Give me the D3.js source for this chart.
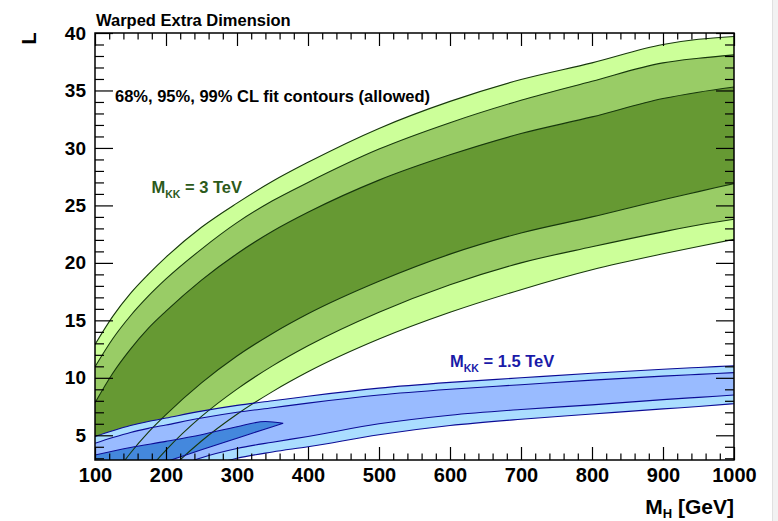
<!DOCTYPE html>
<html>
<head>
<meta charset="utf-8">
<script src="https://cdn.jsdelivr.net/npm/d3@7/dist/d3.min.js"></script>
<style>
  html, body { margin: 0; padding: 0; background: #fff; }
  svg { display: block; font-family: "Liberation Sans", Arial, Helvetica, sans-serif; font-weight: bold; }
</style>
</head>
<body>
<svg id="chart" width="778" height="521"></svg>
<script>
// Higgs mass grid (GeV) on which the contour boundaries are sampled
const massGrid = [100, 125, 150, 175, 200, 250, 300, 350, 400, 500, 600, 700, 800, 900, 950, 1000];

// M_KK = 3 TeV : boundaries of the 99%, 95%, 68% CL allowed bands (L)
const green99Hi = [12.9, 15.35, 17.35, 19.0, 20.5, 23.1, 25.2, 27.1, 28.75, 31.7, 34.05, 35.95, 37.4, 39.0, 39.45, 39.7];
const green95Hi = [10.96, 13.4, 15.4, 17.1, 18.6, 21.2, 23.5, 25.4, 27.0, 29.9, 32.2, 34.15, 35.8, 37.4, 37.8, 38.1];
const green68Hi = [7.83, 10.4, 12.5, 14.3, 15.8, 18.5, 20.8, 22.75, 24.4, 27.2, 29.4, 31.25, 32.7, 34.3, 34.85, 35.3];
const green68Lo = [-1.25, 1.35, 3.46, 5.25, 6.8, 9.56, 11.9, 13.86, 15.57, 18.4, 20.76, 22.6, 24.0, 25.5, 26.2, 26.9];
const green95Lo = [-5.4, -2.44, -0.06, 1.96, 3.71, 6.64, 9.02, 11.04, 12.79, 15.71, 18.1, 20.0, 21.4, 22.7, 23.3, 23.8];
const green99Lo = [-7.2, -4.37, -2.04, -0.06, 1.65, 4.5, 6.83, 8.8, 10.52, 13.37, 15.7, 17.67, 19.4, 20.79, 21.43, 22.05];

// M_KK = 1.5 TeV : 99% and 95% CL band boundaries
const blue99Hi = [4.9, 5.4, 5.85, 6.2, 6.5, 7.1, 7.6, 8.0, 8.4, 9.1, 9.6, 10.0, 10.4, 10.75, 10.9, 11.05];
const blue95Hi = [4.3, 4.8, 5.25, 5.6, 5.9, 6.5, 7.0, 7.4, 7.8, 8.5, 9.0, 9.4, 9.8, 10.15, 10.3, 10.45];
const blue95Lo = [-0.6, 0.0, 0.6, 1.25, 1.9, 3.05, 3.85, 4.4, 4.9, 6.0, 6.75, 7.25, 7.65, 8.1, 8.3, 8.5];
const blue99Lo = [-2.5, -1.75, -1.0, -0.25, 0.5, 2.1, 3.0, 3.55, 4.0, 5.05, 5.85, 6.4, 6.85, 7.3, 7.5, 7.75];

// M_KK = 1.5 TeV : closed 68% CL region at low M_H
const blue68Mass = [100, 150, 200, 250, 300, 340, 365];
const blue68Hi = [3.28, 3.94, 4.47, 5.05, 5.75, 6.2, 6.05];
const blue68Lo = [0.5, 1.6, 2.7, 3.75, 4.75, 5.55, 6.05];

// Axis ticks
const xMajorTicks = [100, 200, 300, 400, 500, 600, 700, 800, 900, 1000];
const yMajorTicks = [5, 10, 15, 20, 25, 30, 35, 40];

const svg = d3.select("#chart");
const frame = { left: 95, right: 734, top: 33, bottom: 460 };

const x = d3.scaleLinear().domain([100, 1000]).range([frame.left, frame.right]);
const y = d3.scaleLinear().domain([2.85, 40]).range([frame.bottom, frame.top]);

const xMinorTicks = d3.range(100, 1001, 20).filter(v => v % 100 !== 0);
const yMinorTicks = d3.range(3, 41, 1).filter(v => v % 5 !== 0);

// edge strip at the right border
svg.append("rect").attr("x", 772).attr("y", 0).attr("width", 6).attr("height", 521).attr("fill", "#f2f2f2");
svg.append("line").attr("x1", 772.5).attr("x2", 772.5).attr("y1", 0).attr("y2", 521).attr("stroke", "#e0e0e0");

svg.append("clipPath").attr("id", "plotClip")
  .append("rect")
  .attr("x", frame.left).attr("y", frame.top)
  .attr("width", frame.right - frame.left).attr("height", frame.bottom - frame.top);

const plot = svg.append("g").attr("clip-path", "url(#plotClip)");

function band(xs, lo, hi) {
  return d3.area()
    .x((d, i) => x(xs[i]))
    .y0((d, i) => y(lo[i]))
    .y1((d, i) => y(hi[i]))
    .curve(d3.curveMonotoneX)(xs);
}
function edge(xs, vals) {
  return d3.line()
    .x((d, i) => x(xs[i]))
    .y((d, i) => y(vals[i]))
    .curve(d3.curveMonotoneX)(xs);
}

const greenLine = "#17380c";
const blueLine = "#0c0c96";

// green fills
plot.append("path").attr("d", band(massGrid, green99Lo, green99Hi)).attr("fill", "#ccff99");
plot.append("path").attr("d", band(massGrid, green95Lo, green95Hi)).attr("fill", "#99cc66");
plot.append("path").attr("d", band(massGrid, green68Lo, green68Hi)).attr("fill", "#669933");

// blue fills
plot.append("path").attr("d", band(massGrid, blue99Lo, blue99Hi)).attr("fill", "#aaddff");
plot.append("path").attr("d", band(massGrid, blue95Lo, blue95Hi)).attr("fill", "#99bbff");
plot.append("path").attr("d", band(blue68Mass, blue68Lo, blue68Hi)).attr("fill", "#4488dd");

// green contour lines
[green99Hi, green95Hi, green68Hi, green68Lo, green95Lo, green99Lo].forEach(vals => {
  plot.append("path").attr("d", edge(massGrid, vals))
    .attr("fill", "none").attr("stroke", greenLine).attr("stroke-width", 1.1);
});

// blue contour lines
[blue99Hi, blue95Hi, blue95Lo, blue99Lo].forEach(vals => {
  plot.append("path").attr("d", edge(massGrid, vals))
    .attr("fill", "none").attr("stroke", blueLine).attr("stroke-width", 1.1);
});
plot.append("path").attr("d", band(blue68Mass, blue68Lo, blue68Hi))
  .attr("fill", "none").attr("stroke", blueLine).attr("stroke-width", 1.1);

// axes: ticks point into the frame
function styleAxis(g) {
  g.select(".domain").remove();
  g.selectAll(".tick line").attr("stroke", "#000").attr("stroke-width", 1.2);
}

svg.append("g").attr("transform", `translate(${frame.left},0)`)
  .call(d3.axisLeft(y).tickValues(yMajorTicks).tickSize(-18).tickPadding(9).tickFormat(d3.format("d")))
  .call(styleAxis)
  .call(g => g.selectAll("text").attr("font-size", 19).attr("font-weight", "bold").attr("fill", "#000")
    .attr("font-family", "Liberation Sans, Arial, sans-serif"));
svg.append("g").attr("transform", `translate(${frame.left},0)`)
  .call(d3.axisLeft(y).tickValues(yMinorTicks).tickSize(-9).tickFormat(""))
  .call(styleAxis);

svg.append("g").attr("transform", `translate(${frame.right},0)`)
  .call(d3.axisRight(y).tickValues(yMajorTicks).tickSize(-18).tickFormat(""))
  .call(styleAxis);
svg.append("g").attr("transform", `translate(${frame.right},0)`)
  .call(d3.axisRight(y).tickValues(yMinorTicks).tickSize(-9).tickFormat(""))
  .call(styleAxis);

svg.append("g").attr("transform", `translate(0,${frame.bottom})`)
  .call(d3.axisBottom(x).tickValues(xMajorTicks).tickSize(-13).tickPadding(8).tickFormat(d3.format("d")))
  .call(styleAxis)
  .call(g => g.selectAll("text").attr("font-size", 20).attr("font-weight", "bold").attr("fill", "#000")
    .attr("font-family", "Liberation Sans, Arial, sans-serif"));
svg.append("g").attr("transform", `translate(0,${frame.bottom})`)
  .call(d3.axisBottom(x).tickValues(xMinorTicks).tickSize(-6.5).tickFormat(""))
  .call(styleAxis);

svg.append("g").attr("transform", `translate(0,${frame.top})`)
  .call(d3.axisTop(x).tickValues(xMajorTicks).tickSize(-13).tickFormat(""))
  .call(styleAxis);
svg.append("g").attr("transform", `translate(0,${frame.top})`)
  .call(d3.axisTop(x).tickValues(xMinorTicks).tickSize(-6.5).tickFormat(""))
  .call(styleAxis);

// frame
svg.append("rect")
  .attr("x", frame.left).attr("y", frame.top)
  .attr("width", frame.right - frame.left).attr("height", frame.bottom - frame.top)
  .attr("fill", "none").attr("stroke", "#000").attr("stroke-width", 1.5);

// titles and annotations
svg.append("text").attr("x", 96).attr("y", 25.5).attr("font-size", 16.5)
  .text("Warped Extra Dimension");

svg.append("text").attr("transform", "translate(35.5,44.5) rotate(-90)")
  .attr("font-size", 20).text("L");

svg.append("text").attr("x", 115).attr("y", 101.7).attr("font-size", 16.5)
  .text("68%, 95%, 99% CL fit contours (allowed)");

const lab3 = svg.append("text").attr("x", 151.5).attr("y", 193.3).attr("font-size", 16.5).attr("fill", "#2c5a1a");
lab3.append("tspan").text("M");
lab3.append("tspan").attr("font-size", 10.5).attr("dy", 4.5).text("KK");
lab3.append("tspan").attr("dy", -4.5).text(" = 3 TeV");

const lab15 = svg.append("text").attr("x", 450).attr("y", 367.3).attr("font-size", 16.5).attr("fill", "#1a1aa8");
lab15.append("tspan").text("M");
lab15.append("tspan").attr("font-size", 10.5).attr("dy", 4.5).text("KK");
lab15.append("tspan").attr("dy", -4.5).text(" = 1.5 TeV");

const xt = svg.append("text").attr("x", 734).attr("y", 514).attr("font-size", 21).attr("text-anchor", "end");
xt.append("tspan").text("M");
xt.append("tspan").attr("font-size", 13).attr("dy", 3.5).text("H");
xt.append("tspan").attr("dy", -3.5).text(" [GeV]");
</script>
</body>
</html>
